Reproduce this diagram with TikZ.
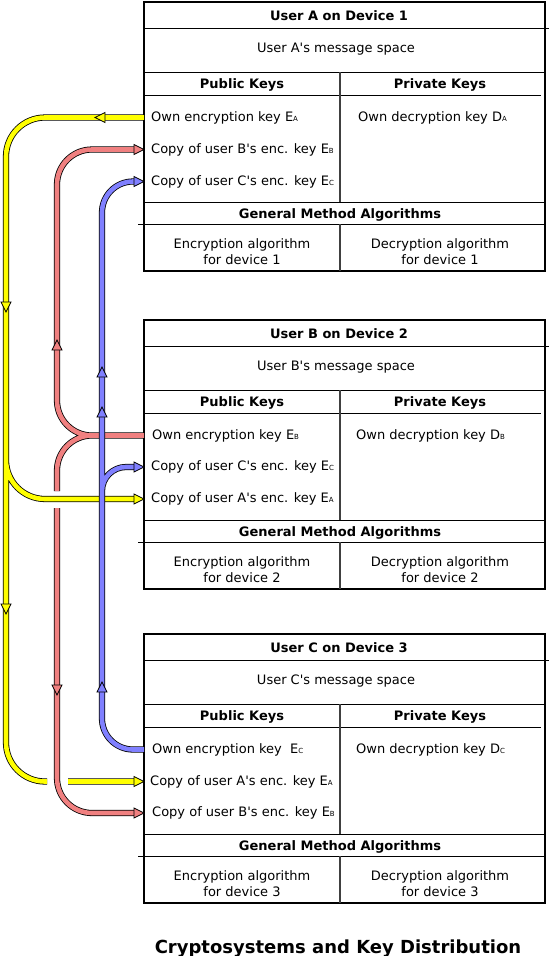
\documentclass[tikz,border=0pt]{standalone}
\usepackage{fontspec}
\setmainfont{DejaVu Sans}
\usetikzlibrary{calc}

\definecolor{keyyellow}{RGB}{255,255,0}
\definecolor{keyred}{RGB}{240,128,128}
\definecolor{keyblue}{RGB}{128,128,255}

% small index letter after E / D
\newcommand{\ki}[1]{{\fontsize{7}{8}\selectfont #1}}

\tikzset{
  devbox/.style={draw, line width=2.8pt, minimum width=401pt, minimum height=269pt,
    anchor=north west, outer sep=0pt, inner sep=0pt},
  txt/.style={font=\fontsize{13}{16}\selectfont, inner sep=0pt},
  head/.style={font=\fontsize{13}{16}\selectfont\bfseries, inner sep=0pt},
  keyrow/.style={txt, anchor=west},
  pipe/.style={draw=black, line width=0.8pt, double=#1, double distance=4.6pt},
  pics/tip/.style={code={
    \filldraw[fill=#1, draw=black, line width=0.7pt] (-10,-5) -- (0,0) -- (-10,5) -- cycle;}}
}

\begin{document}
\begin{tikzpicture}[x=1pt, y=-1pt]
\useasboundingbox (0,0) rectangle (551,956);

% device boxes
\foreach \d/\n/\T in {A/1/2, B/2/320, C/3/634}{
  \node[devbox] (dev\d) at (144,\T) {};
  \draw[line width=1pt] (144,\T+26) -- (549,\T+26);
  \draw[line width=1pt] (144,\T+70) -- (546,\T+70);
  \draw[line width=1pt] (144,\T+93) -- (541,\T+93);
  \draw[line width=1pt] (144,\T+200) -- (545,\T+200);
  \draw[line width=1pt] (138,\T+222) -- (546,\T+222);
  \draw[black!75, line width=1.2pt] (340,\T+70) -- (340,\T+200);
  \draw[black!75, line width=1.2pt] (340,\T+222) -- (340,\T+269);
  \node[head] at (339,\T+14) {User \d\ on Device \n};
  \node[txt] at (336,\T+47) {User \d\textquotesingle s message space};
  \node[head] at (242,\T+83) {Public Keys};
  \node[head] at (440,\T+83) {Private Keys};
  \node[head] at (340,\T+213) {General Method Algorithms};
  \node[txt, align=center] at (242,\T+250) {Encryption algorithm\\for device \n};
  \node[txt, align=center] at (440,\T+250) {Decryption algorithm\\for device \n};
}

% key rows
\node[keyrow] (ownA) at (151,117.5) {Own encryption key E\ki{A}};
\node[keyrow] (cpyAB) at (151,149.5) {Copy of user B\textquotesingle s enc. key E\ki{B}};
\node[keyrow] (cpyAC) at (151,181.5) {Copy of user C\textquotesingle s enc. key E\ki{C}};
\node[keyrow] (privA) at (358,117.5) {Own decryption key D\ki{A}};

\node[keyrow] (ownB) at (152,435.5) {Own encryption key E\ki{B}};
\node[keyrow] (cpyBC) at (151,467) {Copy of user C\textquotesingle s enc. key E\ki{C}};
\node[keyrow] (cpyBA) at (151,499) {Copy of user A\textquotesingle s enc. key E\ki{A}};
\node[keyrow] (privB) at (356,435.5) {Own decryption key D\ki{B}};

\node[keyrow] (ownC) at (152,749.5) {Own encryption key\ \ E\ki{C}};
\node[keyrow] (cpyCA) at (150,781.5) {Copy of user A\textquotesingle s enc. key E\ki{A}};
\node[keyrow] (cpyCB) at (152,813) {Copy of user B\textquotesingle s enc. key E\ki{B}};
\node[keyrow] (privC) at (356,749.5) {Own decryption key D\ki{C}};

% where the pipes meet the boxes
\coordinate (keyAown) at (devA.west |- ownA);
\coordinate (keyAB) at (devA.west |- cpyAB);
\coordinate (keyAC) at (devA.west |- cpyAC);
\coordinate (keyBown) at (devB.west |- ownB);
\coordinate (keyBC) at (devB.west |- cpyBC);
\coordinate (keyBA) at (devB.west |- cpyBA);
\coordinate (keyCown) at (devC.west |- ownC);
\coordinate (keyCA) at (devC.west |- cpyCA);
\coordinate (keyCB) at (devC.west |- cpyCB);

\coordinate (yelX) at (6,0);
\coordinate (redX) at (57,0);
\coordinate (bluX) at (102,0);

% yellow: E_A goes to B and C
\draw[pipe=keyyellow, rounded corners=39pt]
  (keyAown) -- (keyAown -| yelX) -- (keyCA -| yelX) -- ($(keyCA -| redX)+(-10,0)$)
  ($(keyCA -| redX)+(11,0)$) -- ([xshift=-10pt]keyCA)
  ($(keyBA -| yelX)+(0,-60)$) -- (keyBA -| yelX) -- ([xshift=-10pt]keyBA);

% red: E_B goes to A and C
\draw[pipe=keyred, rounded corners=35pt]
  (keyBown) -- (keyBown -| redX) -- (keyAB -| redX) -- ([xshift=-10pt]keyAB)
  ($(keyBown -| redX)+(40,0)$) -- (keyBown -| redX) -- ($(keyBA -| redX)+(0,-8)$)
  ($(keyBA -| redX)+(0,9)$) -- (keyCB -| redX) -- ([xshift=-10pt]keyCB);

% blue: E_C goes to A and B
\draw[pipe=keyblue, rounded corners=31pt]
  (keyCown) -- (keyCown -| bluX) -- (keyAC -| bluX) -- ([xshift=-10pt]keyAC)
  [rounded corners=24pt] ($(keyBC -| bluX)+(0,45)$) -- (keyBC -| bluX) -- ([xshift=-10pt]keyBC);

% arrow heads
\pic[rotate=180] at (95,117.5) {tip=keyyellow};
\pic[rotate=-90] at (6,312) {tip=keyyellow};
\pic[rotate=-90] at (6,614) {tip=keyyellow};
\pic at (keyBA) {tip=keyyellow};
\pic at (keyCA) {tip=keyyellow};

\pic[rotate=90] at (57,340) {tip=keyred};
\pic[rotate=-90] at (57,695) {tip=keyred};
\pic at (keyAB) {tip=keyred};
\pic at (keyCB) {tip=keyred};

\pic[rotate=90] at (102,367) {tip=keyblue};
\pic[rotate=90] at (102,407) {tip=keyblue};
\pic[rotate=90] at (102,682) {tip=keyblue};
\pic at (keyAC) {tip=keyblue};
\pic at (keyBC) {tip=keyblue};

\node[font=\fontsize{18}{20}\selectfont\bfseries, inner sep=0pt, anchor=base] (caption)
  at (338,953) {Cryptosystems and Key Distribution};

\end{tikzpicture}
\end{document}
